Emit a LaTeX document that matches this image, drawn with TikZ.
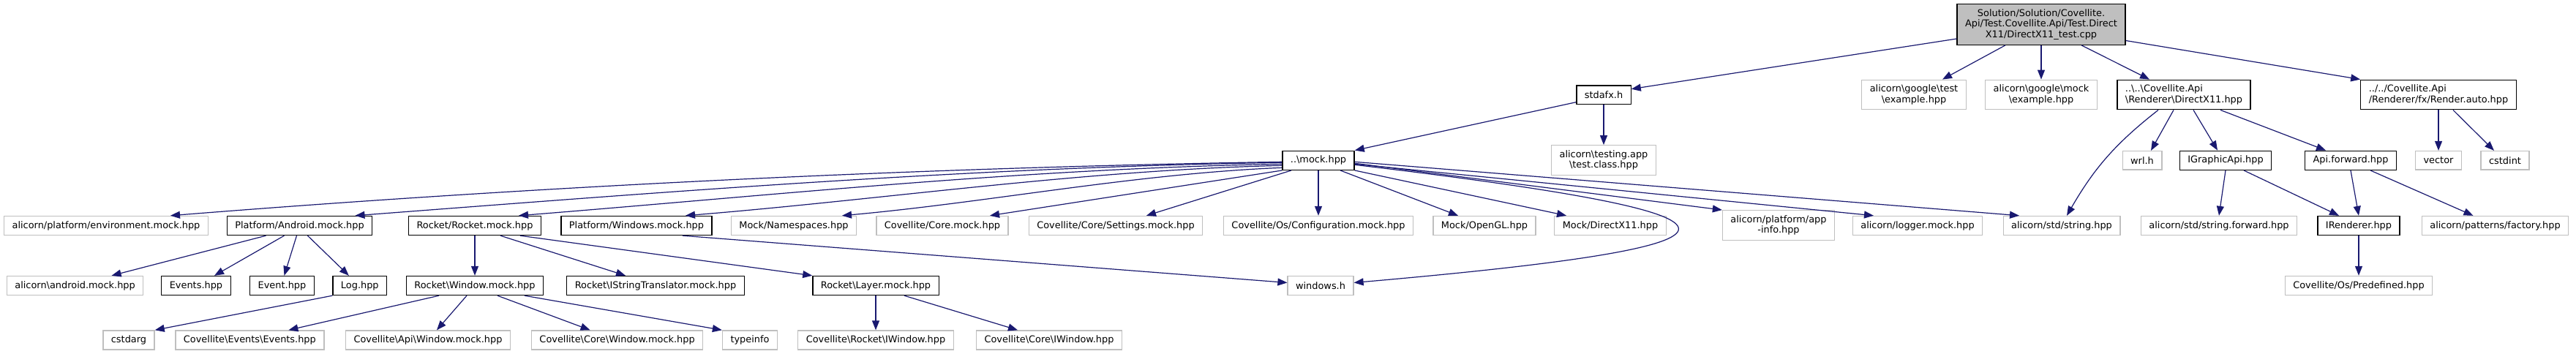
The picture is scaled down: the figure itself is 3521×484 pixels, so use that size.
\documentclass[tikz,border=0pt]{standalone}
\usepackage{fontspec}
\setmainfont{DejaVu Sans}
\usetikzlibrary{arrows.meta}
\definecolor{navyline}{HTML}{191970}
\newcommand\bsl{\textbackslash}

\begin{document}
\begin{tikzpicture}[x=1pt, y=1pt, >={Triangle[length=13pt,width=10pt]},
  every node/.style={font=\fontsize{12.9pt}{14.5pt}\selectfont, inner xsep=11pt, inner ysep=6.8pt, minimum height=25.5pt, align=center},
  docbox/.style={draw=black, line width=1.3pt, fill=white},
  extbox/.style={draw=gray!50, line width=1.3pt, fill=white},
  rootbox/.style={draw=black, line width=1.3pt, fill=gray!50},
  edge/.style={->, draw=navyline, line width=1.2pt}]
  \path[use as bounding box, fill=white] (0,0) rectangle (3521,-484);

  \node[rootbox] (root) at (2790,-33.5) {Solution/Solution/Covellite.\\Api/Test.Covellite.Api/Test.Direct\\X11/DirectX11\_test.cpp};

  \node[docbox] (stdafx) at (2192,-129.7) {stdafx.h};
  \node[extbox] (gtest) at (2616,-129.5) {alicorn\bsl google\bsl test\\\bsl example.hpp};
  \node[extbox] (gmock) at (2790,-129.5) {alicorn\bsl google\bsl mock\\\bsl example.hpp};
  \node[docbox, align=left] (dx) at (2985,-129.5) {..\bsl ..\bsl Covellite.Api\\\bsl Renderer\bsl DirectX11.hpp};
  \node[docbox, align=left] (rauto) at (3333,-129.5) {../../Covellite.Api\\/Renderer/fx/Render.auto.hpp};

  \node[docbox] (mock) at (1802,-219.3) {..\bsl mock.hpp};
  \node[extbox] (tcls) at (2192,-219) {alicorn\bsl testing.app\\\bsl test.class.hpp};
  \node[extbox] (wrl) at (2928,-219.3) {wrl.h};
  \node[docbox] (igapi) at (3042,-219.3) {IGraphicApi.hpp};
  \node[docbox] (apifwd) at (3213,-219.3) {Api.forward.hpp};
  \node[extbox] (vector) at (3333,-219.3) {vector};
  \node[extbox] (cstdint) at (3424,-219.3) {cstdint};

  \node[extbox] (env) at (145,-308.5) {alicorn/platform/environment.mock.hpp};
  \node[docbox] (android) at (409.5,-308.5) {Platform/Android.mock.hpp};
  \node[docbox] (rocket) at (649,-308.5) {Rocket/Rocket.mock.hpp};
  \node[docbox] (winmock) at (870,-308.5) {Platform/Windows.mock.hpp};
  \node[extbox] (nsp) at (1085,-308.5) {Mock/Namespaces.hpp};
  \node[extbox] (coremock) at (1288,-308.5) {Covellite/Core.mock.hpp};
  \node[extbox] (settings) at (1525,-308.5) {Covellite/Core/Settings.mock.hpp};
  \node[extbox] (config) at (1802,-308.5) {Covellite/Os/Configuration.mock.hpp};
  \node[extbox] (opengl) at (2029,-308.5) {Mock/OpenGL.hpp};
  \node[extbox] (dxmock) at (2201,-308.5) {Mock/DirectX11.hpp};
  \node[extbox] (appinfo) at (2431,-308) {alicorn/platform/app\\-info.hpp};
  \node[extbox] (logger) at (2621,-308.5) {alicorn/logger.mock.hpp};
  \node[extbox] (string) at (2818,-308.5) {alicorn/std/string.hpp};
  \node[extbox] (strfwd) at (3033,-308.5) {alicorn/std/string.forward.hpp};
  \node[docbox] (irend) at (3224,-308.5) {IRenderer.hpp};
  \node[extbox] (factory) at (3410.5,-308.5) {alicorn/patterns/factory.hpp};

  \node[extbox] (andmock) at (102.6,-390.5) {alicorn\bsl android.mock.hpp};
  \node[docbox] (events) at (268,-390.5) {Events.hpp};
  \node[docbox] (event) at (385.5,-390.5) {Event.hpp};
  \node[docbox] (log) at (491.8,-390.5) {Log.hpp};
  \node[docbox] (rwin) at (649,-390.5) {Rocket\bsl Window.mock.hpp};
  \node[docbox] (istr) at (896,-390.5) {Rocket\bsl IStringTranslator.mock.hpp};
  \node[docbox] (layer) at (1197,-390.5) {Rocket\bsl Layer.mock.hpp};
  \node[extbox] (winh) at (1805,-390.5) {windows.h};
  \node[extbox] (predef) at (3224,-390.5) {Covellite/Os/Predefined.hpp};

  \node[extbox] (cstdarg) at (176,-465) {cstdarg};
  \node[extbox] (evevents) at (341.4,-465) {Covellite\bsl Events\bsl Events.hpp};
  \node[extbox] (apiwin) at (585,-465) {Covellite\bsl Api\bsl Window.mock.hpp};
  \node[extbox] (corewin) at (843.6,-465) {Covellite\bsl Core\bsl Window.mock.hpp};
  \node[extbox] (typeinfo) at (1025,-465) {typeinfo};
  \node[extbox] (rociwin) at (1197,-465) {Covellite\bsl Rocket\bsl IWindow.hpp};
  \node[extbox] (coreiwin) at (1434,-465) {Covellite\bsl Core\bsl IWindow.hpp};

  \draw[edge] ([yshift=-19.5pt]root.west) -- ([yshift=8pt]stdafx.east);
  \draw[edge] ([xshift=-49pt]root.south) -- ([xshift=39pt]gtest.north);
  \draw[edge] (root.south) -- (gmock.north);
  \draw[edge] ([xshift=55pt]root.south) -- ([xshift=-47pt]dx.north);
  \draw[edge] ([yshift=-22pt]root.east) -- (rauto.north west);

  \draw[edge] ([yshift=-10pt]stdafx.west) -- (mock.north east);
  \draw[edge] (stdafx.south) -- (tcls.north);

  \draw[edge] ([yshift=-2pt]mock.west) .. controls +(-500,-8) and +(500,40) .. ([xshift=88pt]env.north);
  \draw[edge] ([yshift=-3pt]mock.west) .. controls +(-420,-6) and +(420,32) .. ([xshift=76pt]android.north);
  \draw[edge] ([yshift=-5pt]mock.west) .. controls +(-350,-6) and +(350,28) .. ([xshift=60pt]rocket.north);
  \draw[edge] ([yshift=-7pt]mock.west) .. controls +(-270,-6) and +(270,22) .. ([xshift=67pt]winmock.north);
  \draw[edge] ([yshift=-10pt]mock.west) .. controls +(-200,-8) and +(200,18) .. ([xshift=66pt]nsp.north);
  \draw[edge] (mock.south west) -- ([xshift=65pt]coremock.north);
  \draw[edge] ([xshift=-37pt]mock.south) -- ([xshift=42pt]settings.north);
  \draw[edge] (mock.south) -- (config.north);
  \draw[edge] ([xshift=30pt]mock.south) -- ([xshift=-36pt]opengl.north);
  \draw[edge] (mock.south east) -- ([xshift=-60pt]dxmock.north);
  \draw[edge] ([yshift=-6pt]mock.east) .. controls (2440,-295) and (2440,-335) .. ([yshift=4pt]winh.east);
  \draw[edge] ([yshift=-4pt]mock.east) -- (appinfo.north west);
  \draw[edge] ([yshift=-5pt]mock.east) -- ([xshift=-60pt]logger.north);
  \draw[edge] ([yshift=-2pt]mock.east) -- ([xshift=-58pt]string.north);

  \draw[edge] ([xshift=-35pt]dx.south) to[out=218, in=60] ([xshift=7pt]string.north);
  \draw[edge] ([xshift=-14pt]dx.south) -- ([xshift=12pt]wrl.north);
  \draw[edge] ([xshift=13pt]dx.south) -- ([xshift=-11pt]igapi.north);
  \draw[edge] ([xshift=50pt]dx.south) -- ([xshift=-34pt]apifwd.north);
  \draw[edge] (rauto.south) -- (vector.north);
  \draw[edge] ([xshift=20pt]rauto.south) -- ([xshift=-15pt]cstdint.north);
  \draw[edge] (igapi.south) -- (strfwd.north);
  \draw[edge] ([xshift=25pt]igapi.south) -- ([xshift=-27pt]irend.north);
  \draw[edge] (apifwd.south) -- (irend.north);
  \draw[edge] ([xshift=27pt]apifwd.south) -- ([xshift=-30pt]factory.north);
  \draw[edge] (irend.south) -- (predef.north);

  \draw[edge] ([xshift=-46pt]android.south) -- ([xshift=50pt]andmock.north);
  \draw[edge] ([xshift=-21pt]android.south) -- ([xshift=25pt]events.north);
  \draw[edge] ([xshift=-4pt]android.south) -- ([xshift=3pt]event.north);
  \draw[edge] ([xshift=11pt]android.south) -- ([xshift=-15pt]log.north);
  \draw[edge] (log.south west) -- (cstdarg.north east);
  \draw[edge] (rocket.south) -- (rwin.north);
  \draw[edge] ([xshift=35pt]rocket.south) -- ([xshift=-41pt]istr.north);
  \draw[edge] ([xshift=62pt]rocket.south) -- (layer.north west);
  \draw[edge] ([xshift=63pt]winmock.south) -- ([yshift=4pt]winh.west);
  \draw[edge] ([xshift=-49pt]rwin.south) -- ([xshift=53pt]evevents.north);
  \draw[edge] ([xshift=-11pt]rwin.south) -- ([xshift=12pt]apiwin.north);
  \draw[edge] ([xshift=31pt]rwin.south) -- ([xshift=-37pt]corewin.north);
  \draw[edge] ([xshift=68pt]rwin.south) -- (typeinfo.north west);
  \draw[edge] (layer.south) -- (rociwin.north);
  \draw[edge] ([xshift=39pt]layer.south) -- ([xshift=-43pt]coreiwin.north);
\end{tikzpicture}
\end{document}
